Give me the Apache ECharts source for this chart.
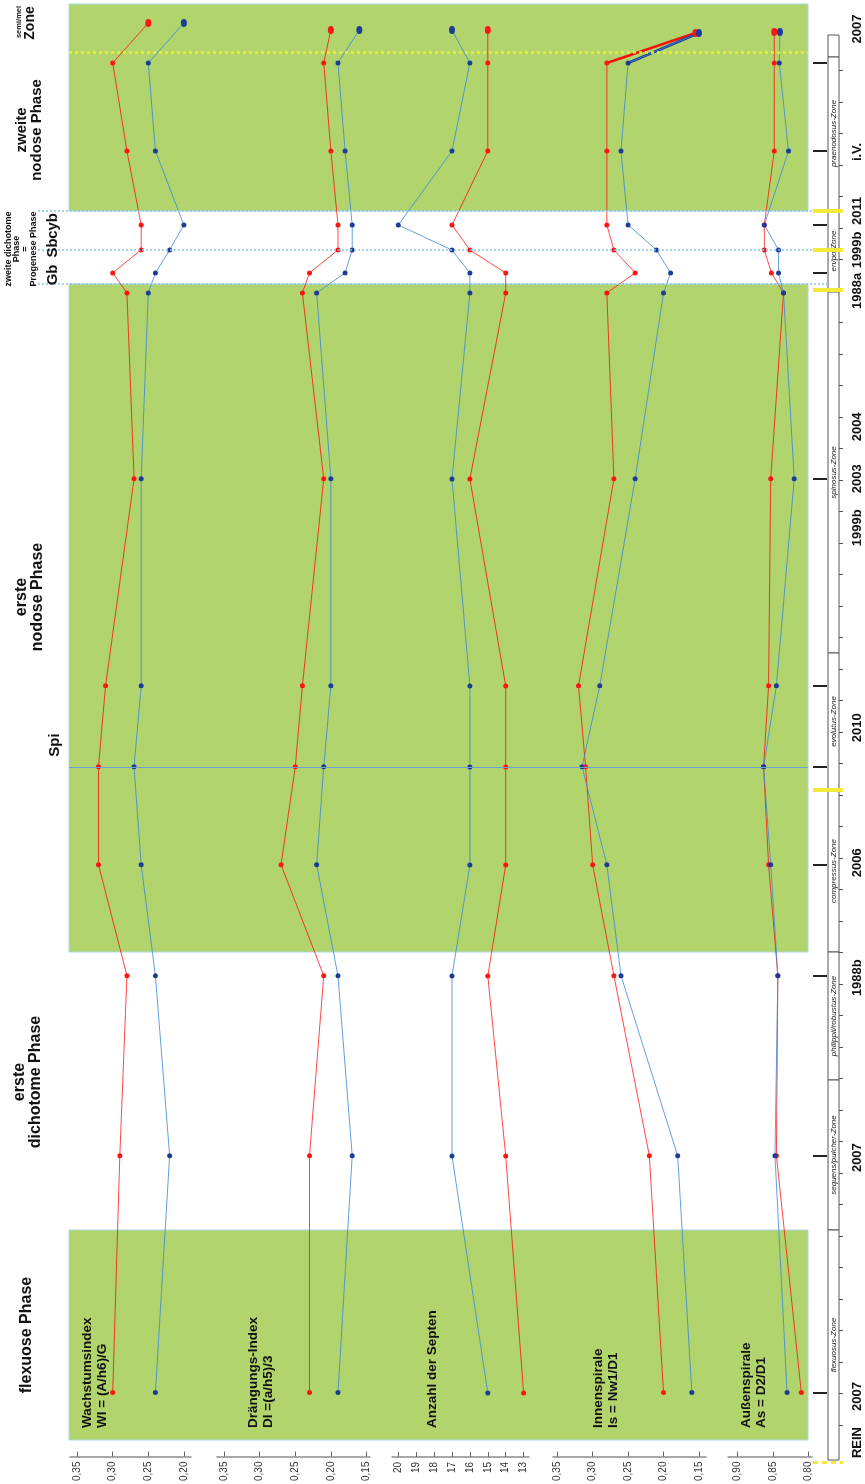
<!DOCTYPE html>
<html><head><meta charset="utf-8">
<script src="https://cdn.jsdelivr.net/npm/echarts@6/dist/echarts.min.js"></script>
<style>html,body{margin:0;padding:0;background:#fff}#c{width:865px;height:1484px}</style>
</head><body><div id="c"></div>
<script>
// ---------- DATA ----------
// stratigraphic position of each sample level (profile units, 0 = base of plot area)
const levelNames = ['2007 flexuosus','2007 sequens','1988b','2006','2010 Spi','evolutus','2003','1988a','Gb','Sb','cyb','i.V.','praenodosus'];
const levels = [47, 284, 464, 575, 673, 754, 961, 1147, 1167, 1190, 1215, 1289, 1377];
// uppermost (semi/mei) sample, per panel
const semiLevels = [1417, 1410, 1410, 1407, 1408];

const wiRed  = [0.30, 0.29, 0.28, 0.32, 0.32, 0.31, 0.27, 0.28, 0.30, 0.26, 0.26, 0.28, 0.30, 0.25];
const wiBlue = [0.24, 0.22, 0.24, 0.26, 0.27, 0.26, 0.26, 0.25, 0.24, 0.22, 0.20, 0.24, 0.25, 0.20];
const diRed  = [0.23, 0.23, 0.21, 0.27, 0.25, 0.24, 0.21, 0.24, 0.23, 0.19, 0.19, 0.20, 0.21, 0.20];
const diBlue = [0.19, 0.17, 0.19, 0.22, 0.21, 0.20, 0.20, 0.22, 0.18, 0.17, 0.17, 0.18, 0.19, 0.16];
const sepRed  = [13, 14, 15, 14, 14, 14, 16, 14, 14, 16, 17, 15, 15, 15];
const sepBlue = [15, 17, 17, 16, 16, 16, 17, 16, 16, 17, 20, 17, 16, 17];
const isRed  = [0.20, 0.22, 0.27, 0.30, 0.31, 0.32, 0.27, 0.28, 0.24, 0.27, 0.28, 0.28, 0.28, 0.155];
const isBlue = [0.16, 0.18, 0.26, 0.28, 0.315, 0.29, 0.24, 0.20, 0.19, 0.21, 0.25, 0.26, 0.25, 0.15];
const asRed  = [0.81, 0.845, 0.843, 0.856, 0.863, 0.856, 0.853, 0.835, 0.852, 0.862, 0.862, 0.848, 0.848, 0.848];
const asBlue = [0.83, 0.847, 0.843, 0.853, 0.863, 0.845, 0.82, 0.835, 0.842, 0.842, 0.862, 0.828, 0.841, 0.84];

const wiTicks  = [0.35, 0.30, 0.25, 0.20];
const diTicks  = [0.35, 0.30, 0.25, 0.20, 0.15];
const sepTicks = [20, 19, 18, 17, 16, 15, 14, 13];
const isTicks  = [0.35, 0.30, 0.25, 0.20, 0.15];
const asTicks  = [0.90, 0.85, 0.80];

const panelTitles = ['Wachstumsindex\nWI = (A/h6)/G', 'Drängungs-Index\nDI =(a/h5)/3', 'Anzahl der Septen', 'Innenspirale\nIs = Nw1/D1', 'Außenspirale\nAs = D2/D1'];

// phases (green = nodose phases)
const greenBands = [[0, 210], [488, 1156], [1229, 1436]];
const bandEdges = [1229, 1190, 1156];   // dotted lines: top band edge, Sb, Gb
const spiLevel = 673;
const yellowDotLevel = 1388;

// ammonite zones in the right column
const zones = [
  ['', 1383, 1405], ['praenodosus-Zone', 1230, 1383], ['en/po-Zone', 1148, 1230],
  ['spinosus-Zone', 787, 1148], ['evolutus-Zone', 650, 787], ['compressus-Zone', 488, 650],
  ['philippii/robustus-Zone', 360, 488], ['sequens/pulcher-Zone', 210, 360], ['flexuosus-Zone', -20, 210]
];
const majorTickLevels = [47, 284, 464, 575, 673, 754, 961, 1167, 1190, 1215, 1289, 1377];
const minorTickStart = 15, minorTickStep = 31.5, minorTickEnd = 1380;
const yellowMarks = [1229, 1190, 1150, 650];
const yellowBase = -22;

const rightLabels = [['2007', 1411], ['i.V.', 1288], ['2011', 1229], ['1999b', 1190], ['1988a', 1149],
  ['2004', 1013], ['2003', 961], ['1999b', 912], ['2010', 712], ['2006', 577], ['1988b', 462],
  ['2007', 282], ['2007', 43], ['REIN', -3]];

// ---------- CHART ----------
const FONT = '"Liberation Sans", Arial, Helvetica, sans-serif';
const TOP = 4, PMAX = 1436;
const chart = echarts.init(document.getElementById('c'));

const panels = [
  {red: wiRed, blue: wiBlue, min: 0.19, max: 0.36, ticks: wiTicks, left: 70, width: 121, dec: 2},
  {red: diRed, blue: diBlue, min: 0.145, max: 0.36, ticks: diTicks, left: 217, width: 153, dec: 2},
  {red: sepRed, blue: sepBlue, min: 12.7, max: 20.35, ticks: sepTicks, left: 392, width: 137, dec: 0},
  {red: isRed, blue: isBlue, min: 0.14, max: 0.356, ticks: isTicks, left: 553, width: 153, dec: 2},
  {red: asRed, blue: asBlue, min: 0.795, max: 0.913, ticks: asTicks, left: 728, width: 84, dec: 2}
];

const grid = [], xAxis = [], yAxis = [], series = [];
function pts(arr, p) {
  return arr.map((v, i) => i < levels.length ? [v, levels[i]] : {value: [v, semiLevels[p]], symbolSize: [6, 8]});
}
panels.forEach((pn, p) => {
  grid.push({left: pn.left, width: pn.width, top: TOP, bottom: 44});
  xAxis.push({
    type: 'value', gridIndex: p, inverse: true, min: pn.min, max: pn.max, offset: 17,
    position: 'bottom', splitLine: {show: false},
    axisLine: {show: true, onZero: false, lineStyle: {color: '#8c8c8c', width: 1.5}},
    axisTick: {show: true, inside: true, length: 5, customValues: pn.ticks, lineStyle: {color: '#666'}},
    axisLabel: {show: true, rotate: 90, margin: 5, fontSize: 10, color: '#333', fontFamily: FONT,
      customValues: pn.ticks, formatter: v => v.toFixed(pn.dec).replace('.', ',')}
  });
  yAxis.push({type: 'value', gridIndex: p, min: 0, max: PMAX, show: false});
  series.push({type: 'line', xAxisIndex: p, yAxisIndex: p, data: pts(pn.red, p), symbol: 'circle', symbolSize: 5,
    itemStyle: {color: '#ff1414'}, lineStyle: {color: 'rgba(255,0,0,0.72)', width: 1}, z: 4, animation: false});
  series.push({type: 'line', xAxisIndex: p, yAxisIndex: p, data: pts(pn.blue, p), symbol: 'circle', symbolSize: 5,
    itemStyle: {color: '#1d3c96'}, lineStyle: {color: 'rgba(60,135,215,0.8)', width: 1}, z: 4, animation: false});
});
// thick top segments in the Is panel
const n = levels.length;
series.push({type: 'line', xAxisIndex: 3, yAxisIndex: 3, symbol: 'none', z: 3, animation: false,
  data: [[isRed[n - 1], levels[n - 1]], [isRed[n], semiLevels[3]]], lineStyle: {color: '#f01c10', width: 2.5}});
series.push({type: 'line', xAxisIndex: 3, yAxisIndex: 3, symbol: 'none', z: 3, animation: false,
  data: [[isBlue[n - 1], levels[n - 1]], [isBlue[n], semiLevels[3]]], lineStyle: {color: '#1d3c96', width: 2.5}});

function helperGrid(g, ymin, mk) {
  const idx = grid.length;
  grid.push(g);
  xAxis.push({type: 'value', gridIndex: idx, min: 0, max: 1, show: false});
  yAxis.push({type: 'value', gridIndex: idx, min: ymin, max: PMAX, show: false});
  series.push(Object.assign({type: 'scatter', xAxisIndex: idx, yAxisIndex: idx, data: [[0.5, -1000]],
    symbolSize: 0, silent: true, animation: false}, mk));
}
const noSym = {silent: true, symbol: ['none', 'none'], label: {show: false}, animation: false};
// green phase bands + yellow dotted + Spi line
helperGrid({left: 69, width: 739, top: TOP, bottom: 44}, 0, {z: 1,
  markArea: {silent: true, itemStyle: {color: '#b1d46d', borderColor: '#a9d6e2', borderWidth: 1},
    data: greenBands.map(b => [{yAxis: b[0]}, {yAxis: b[1]}])},
  markLine: Object.assign({}, noSym, {data: [
      {yAxis: yellowDotLevel, lineStyle: {color: '#f4ee1c', width: 2.5, type: [3, 3]}},
      {yAxis: spiLevel, lineStyle: {color: '#6b9fd6', width: 1, type: 'solid'}}
    ]})});
// dotted light blue boundary lines
helperGrid({left: 38, width: 792, top: TOP, bottom: 44}, 0, {z: 2,
  markLine: Object.assign({}, noSym, {lineStyle: {color: '#8cc3ea', width: 1.5, type: [2, 2]},
    data: bandEdges.map(v => ({yAxis: v}))})});
// zone column
helperGrid({left: 828, width: 11, top: TOP, bottom: 24}, -20, {z: 2,
  markArea: {silent: true,
    itemStyle: {color: '#ffffff', borderColor: '#555', borderWidth: 1},
    label: {show: true, position: 'inside', rotate: 90, fontSize: 8, fontStyle: 'italic', color: '#222', fontFamily: FONT},
    data: zones.map(z => [{yAxis: z[1], name: z[0]}, {yAxis: z[2]}])}});
// minor ticks right of the column
const minorTicks = [];
for (let v = minorTickStart; v < minorTickEnd; v += minorTickStep) minorTicks.push(v);
helperGrid({left: 839, width: 4, top: TOP, bottom: 44}, 0, {z: 3,
  markLine: Object.assign({}, noSym, {lineStyle: {color: '#555', width: 1, type: 'solid'},
    data: minorTicks.map(v => ({yAxis: v}))})});
// major black ticks
helperGrid({left: 813, width: 14, top: TOP, bottom: 44}, 0, {z: 3,
  markLine: Object.assign({}, noSym, {lineStyle: {color: '#222', width: 2, type: 'solid'},
    data: majorTickLevels.map(v => ({yAxis: v}))})});
// yellow markers
helperGrid({left: 813, width: 30, top: TOP, bottom: 19}, -25, {z: 5,
  markLine: Object.assign({}, noSym, {lineStyle: {color: '#f2ea35', width: 4, type: 'solid'},
    data: yellowMarks.map(v => ({yAxis: v})).concat([{yAxis: yellowBase, lineStyle: {color: '#f2ea35', width: 3, type: [5, 4]}}])})});

chart.setOption({animation: false, backgroundColor: '#fff', grid, xAxis, yAxis, series});

// ---------- TEXT ----------
function vtext(x, y, text, size, align, lh) {
  return {type: 'text', x, y, rotation: Math.PI / 2, z: 10, silent: true,
    style: {text, font: `bold ${size}px ${FONT}`, fill: '#111',
      textAlign: align || 'center', textVerticalAlign: 'middle', lineHeight: lh || size * 1.1}};
}
const yOf = pos => chart.convertToPixel({yAxisIndex: 0}, pos);
const graphic = [];
const titleX = [95, 261, 432, 606, 754];
panelTitles.forEach((t, i) => graphic.push(vtext(titleX[i], 1428, t, 13.5, 'left', 15)));
rightLabels.forEach(r => graphic.push(vtext(857, yOf(r[1]), r[0], 13, 'center')));
graphic.push(vtext(19, 22, 'semi/mei', 7.5, 'center'));
graphic.push(vtext(30, 23, 'Zone', 14, 'center'));
graphic.push(vtext(29, 130, 'zweite\nnodose Phase', 15, 'center', 15));
graphic.push(vtext(21, 249, 'zweite dichotome\nPhase\n=\nProgenese Phase', 9, 'center', 8.5));
graphic.push(vtext(53, yOf(1167) + 2, 'Gb', 15, 'center'));
graphic.push(vtext(53, yOf(1190) - 2, 'Sb', 15, 'center'));
graphic.push(vtext(53, yOf(1215) + 1, 'cyb', 15, 'center'));
graphic.push(vtext(30, 597, 'erste\nnodose Phase', 16, 'center', 16));
graphic.push(vtext(55, 745, 'Spi', 15, 'center'));
graphic.push(vtext(28, 1082, 'erste\ndichotome Phase', 16, 'center', 16));
graphic.push(vtext(27, 1335, 'flexuose Phase', 16, 'center'));
chart.setOption({graphic});
</script></body></html>
